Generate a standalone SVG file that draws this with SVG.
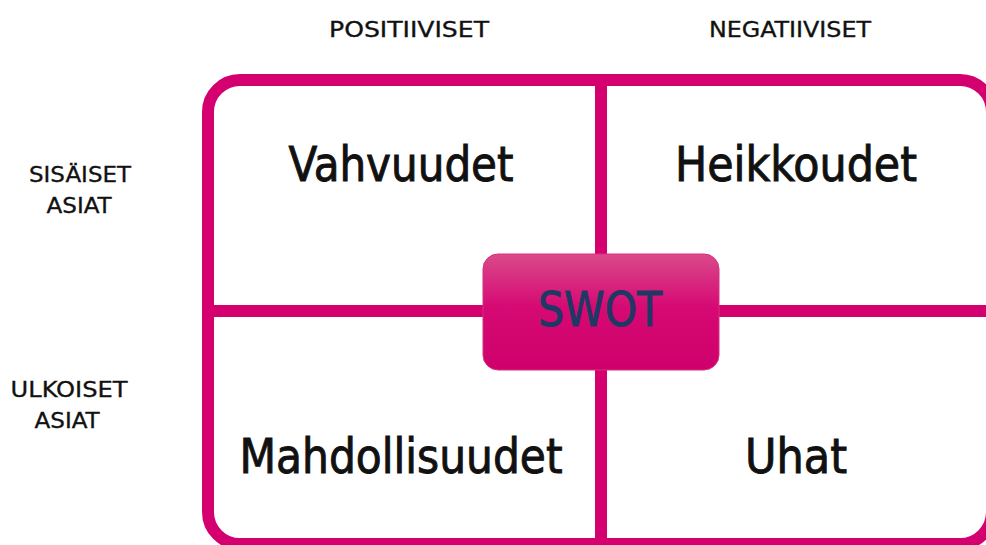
<svg xmlns="http://www.w3.org/2000/svg" width="986" height="545" viewBox="0 0 986 545">
<style>
.frame{fill:none;stroke:#d4006f;stroke-width:12}
.div{stroke:#d4006f;stroke-width:12;fill:none}
.q{font-family:"DejaVu Sans Condensed","DejaVu Sans",sans-serif;font-stretch:condensed;font-size:48px;fill:#111;stroke:#111;stroke-width:0.9px;text-anchor:middle}
.h{font-family:"DejaVu Sans Condensed","DejaVu Sans",sans-serif;font-stretch:condensed;font-size:22px;fill:#111;stroke:#111;stroke-width:0.3px;text-anchor:middle}
.swot{font-family:"DejaVu Sans Condensed","DejaVu Sans",sans-serif;font-stretch:condensed;font-size:48px;fill:#1f3864;stroke:#1f3864;stroke-width:0.9px;text-anchor:middle}
</style>
<defs>
<linearGradient id="g" x1="0" y1="0" x2="0" y2="1">
<stop offset="0" stop-color="#da4a8a"/>
<stop offset="0.45" stop-color="#d60a74"/>
<stop offset="1" stop-color="#cf006b"/>
</linearGradient>
</defs>
<g id="connectors">
<rect class="frame" x="208" y="80" width="784" height="464" rx="32" ry="32"/>
<line class="div" x1="601" y1="80" x2="601" y2="544"/>
<line class="div" x1="208" y1="311" x2="992" y2="311"/>
</g>
<g id="headers">
<text class="h" x="409" y="37" textLength="160" lengthAdjust="spacingAndGlyphs">POSITIIVISET</text>
<text class="h" x="790" y="37" textLength="162" lengthAdjust="spacingAndGlyphs">NEGATIIVISET</text>
<text class="h" x="80" y="182" textLength="102" lengthAdjust="spacingAndGlyphs">SISÄISET</text>
<text class="h" x="79" y="213" textLength="65" lengthAdjust="spacingAndGlyphs">ASIAT</text>
<text class="h" x="69" y="397" textLength="117" lengthAdjust="spacingAndGlyphs">ULKOISET</text>
<text class="h" x="67" y="428" textLength="65" lengthAdjust="spacingAndGlyphs">ASIAT</text>
</g>
<g id="strengths"><text class="q" x="401" y="181" textLength="225" lengthAdjust="spacingAndGlyphs">Vahvuudet</text></g>
<g id="weaknesses"><text class="q" x="796" y="181" textLength="242" lengthAdjust="spacingAndGlyphs">Heikkoudet</text></g>
<g id="opportunities"><text class="q" x="401" y="473" textLength="323" lengthAdjust="spacingAndGlyphs">Mahdollisuudet</text></g>
<g id="threats"><text class="q" x="796" y="473" textLength="102" lengthAdjust="spacingAndGlyphs">Uhat</text></g>
<g id="swot">
<rect x="483" y="254" width="236" height="116" rx="15" ry="15" fill="url(#g)" stroke="#d3307f" stroke-width="1"/>
<text class="swot" x="600" y="326" textLength="124" lengthAdjust="spacingAndGlyphs">SWOT</text>
</g>
</svg>
